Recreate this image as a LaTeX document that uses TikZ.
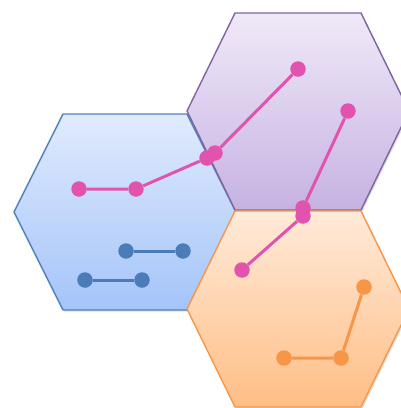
\documentclass[tikz,border=0pt]{standalone}
\usetikzlibrary{shadows}
\definecolor{bluetop}{RGB}{224,235,253}
\definecolor{bluebot}{RGB}{164,196,249}
\definecolor{bluestroke}{RGB}{79,129,189}
\definecolor{bluedot}{RGB}{74,124,184}
\definecolor{purptop}{RGB}{240,233,248}
\definecolor{purpbot}{RGB}{198,178,226}
\definecolor{purpstroke}{RGB}{128,100,162}
\definecolor{orgtop}{RGB}{255,234,217}
\definecolor{orgbot}{RGB}{255,190,134}
\definecolor{orgstroke}{RGB}{247,150,70}
\definecolor{pinkc}{RGB}{226,83,176}
\tikzset{
  hexa/.style={line width=1.4pt, line join=round},
  dotp/.style={circle, fill=pinkc, inner sep=0pt, minimum size=15.5pt},
  dotb/.style={circle, fill=bluedot, inner sep=0pt, minimum size=15.5pt},
  doto/.style={circle, fill=orgstroke, inner sep=0pt, minimum size=15.5pt},
  linkp/.style={pinkc, line width=3pt},
  linkb/.style={bluedot, line width=3pt},
  linko/.style={orgstroke, line width=3pt},
  shad/.style={drop shadow={opacity=0.25, shadow xshift=1.5pt, shadow yshift=-1.5pt}}
}
\begin{document}
\begin{tikzpicture}[x=1pt,y=-1pt]
\useasboundingbox (0,0) rectangle (401,408);
% blue hexagon
\path[hexa, draw=bluestroke, top color=bluetop, bottom color=bluebot, shad]
  (14,212) -- (63,114) -- (187,114) -- (236,212) -- (187,310) -- (63,310) -- cycle;
% purple hexagon
\path[hexa, draw=purpstroke, top color=purptop, bottom color=purpbot, shad]
  (187,111) -- (235,13) -- (361,13) -- (409,111) -- (361,210) -- (235,210) -- cycle;
% orange hexagon
\path[hexa, draw=orgstroke, top color=orgtop, bottom color=orgbot, shad]
  (187,309) -- (235,211) -- (361,211) -- (409,309) -- (361,407) -- (235,407) -- cycle;
% blue dots
\node[dotb] (b1) at (126,251) {};
\node[dotb] (b2) at (183,251) {};
\node[dotb] (b3) at (85,280) {};
\node[dotb] (b4) at (142,280) {};
\draw[linkb] (b1) -- (b2);
\draw[linkb] (b3) -- (b4);
% orange dots
\node[doto] (o1) at (284,358) {};
\node[doto] (o2) at (341,358) {};
\node[doto] (o3) at (364,287) {};
\draw[linko] (o1) -- (o2) -- (o3);
% pink path 1
\node[dotp] (p1) at (79,189) {};
\node[dotp] (p2) at (136,189) {};
\node[dotp] (p3) at (207,158) {};
\node[dotp] (p4) at (215,153) {};
\node[dotp] (p5) at (298,69) {};
\draw[linkp] (p1) -- (p2) -- (p3);
\draw[linkp] (p3.center) -- (p4.center);
\draw[linkp] (p4) -- (p5);
% pink path 2
\node[dotp] (q1) at (348,111) {};
\node[dotp] (q2) at (303,208) {};
\node[dotp] (q3) at (303,216) {};
\node[dotp] (q4) at (242,270) {};
\draw[linkp] (q1) -- (q2);
\draw[linkp] (q2.center) -- (q3.center);
\draw[linkp] (q3) -- (q4);
\end{tikzpicture}
\end{document}
